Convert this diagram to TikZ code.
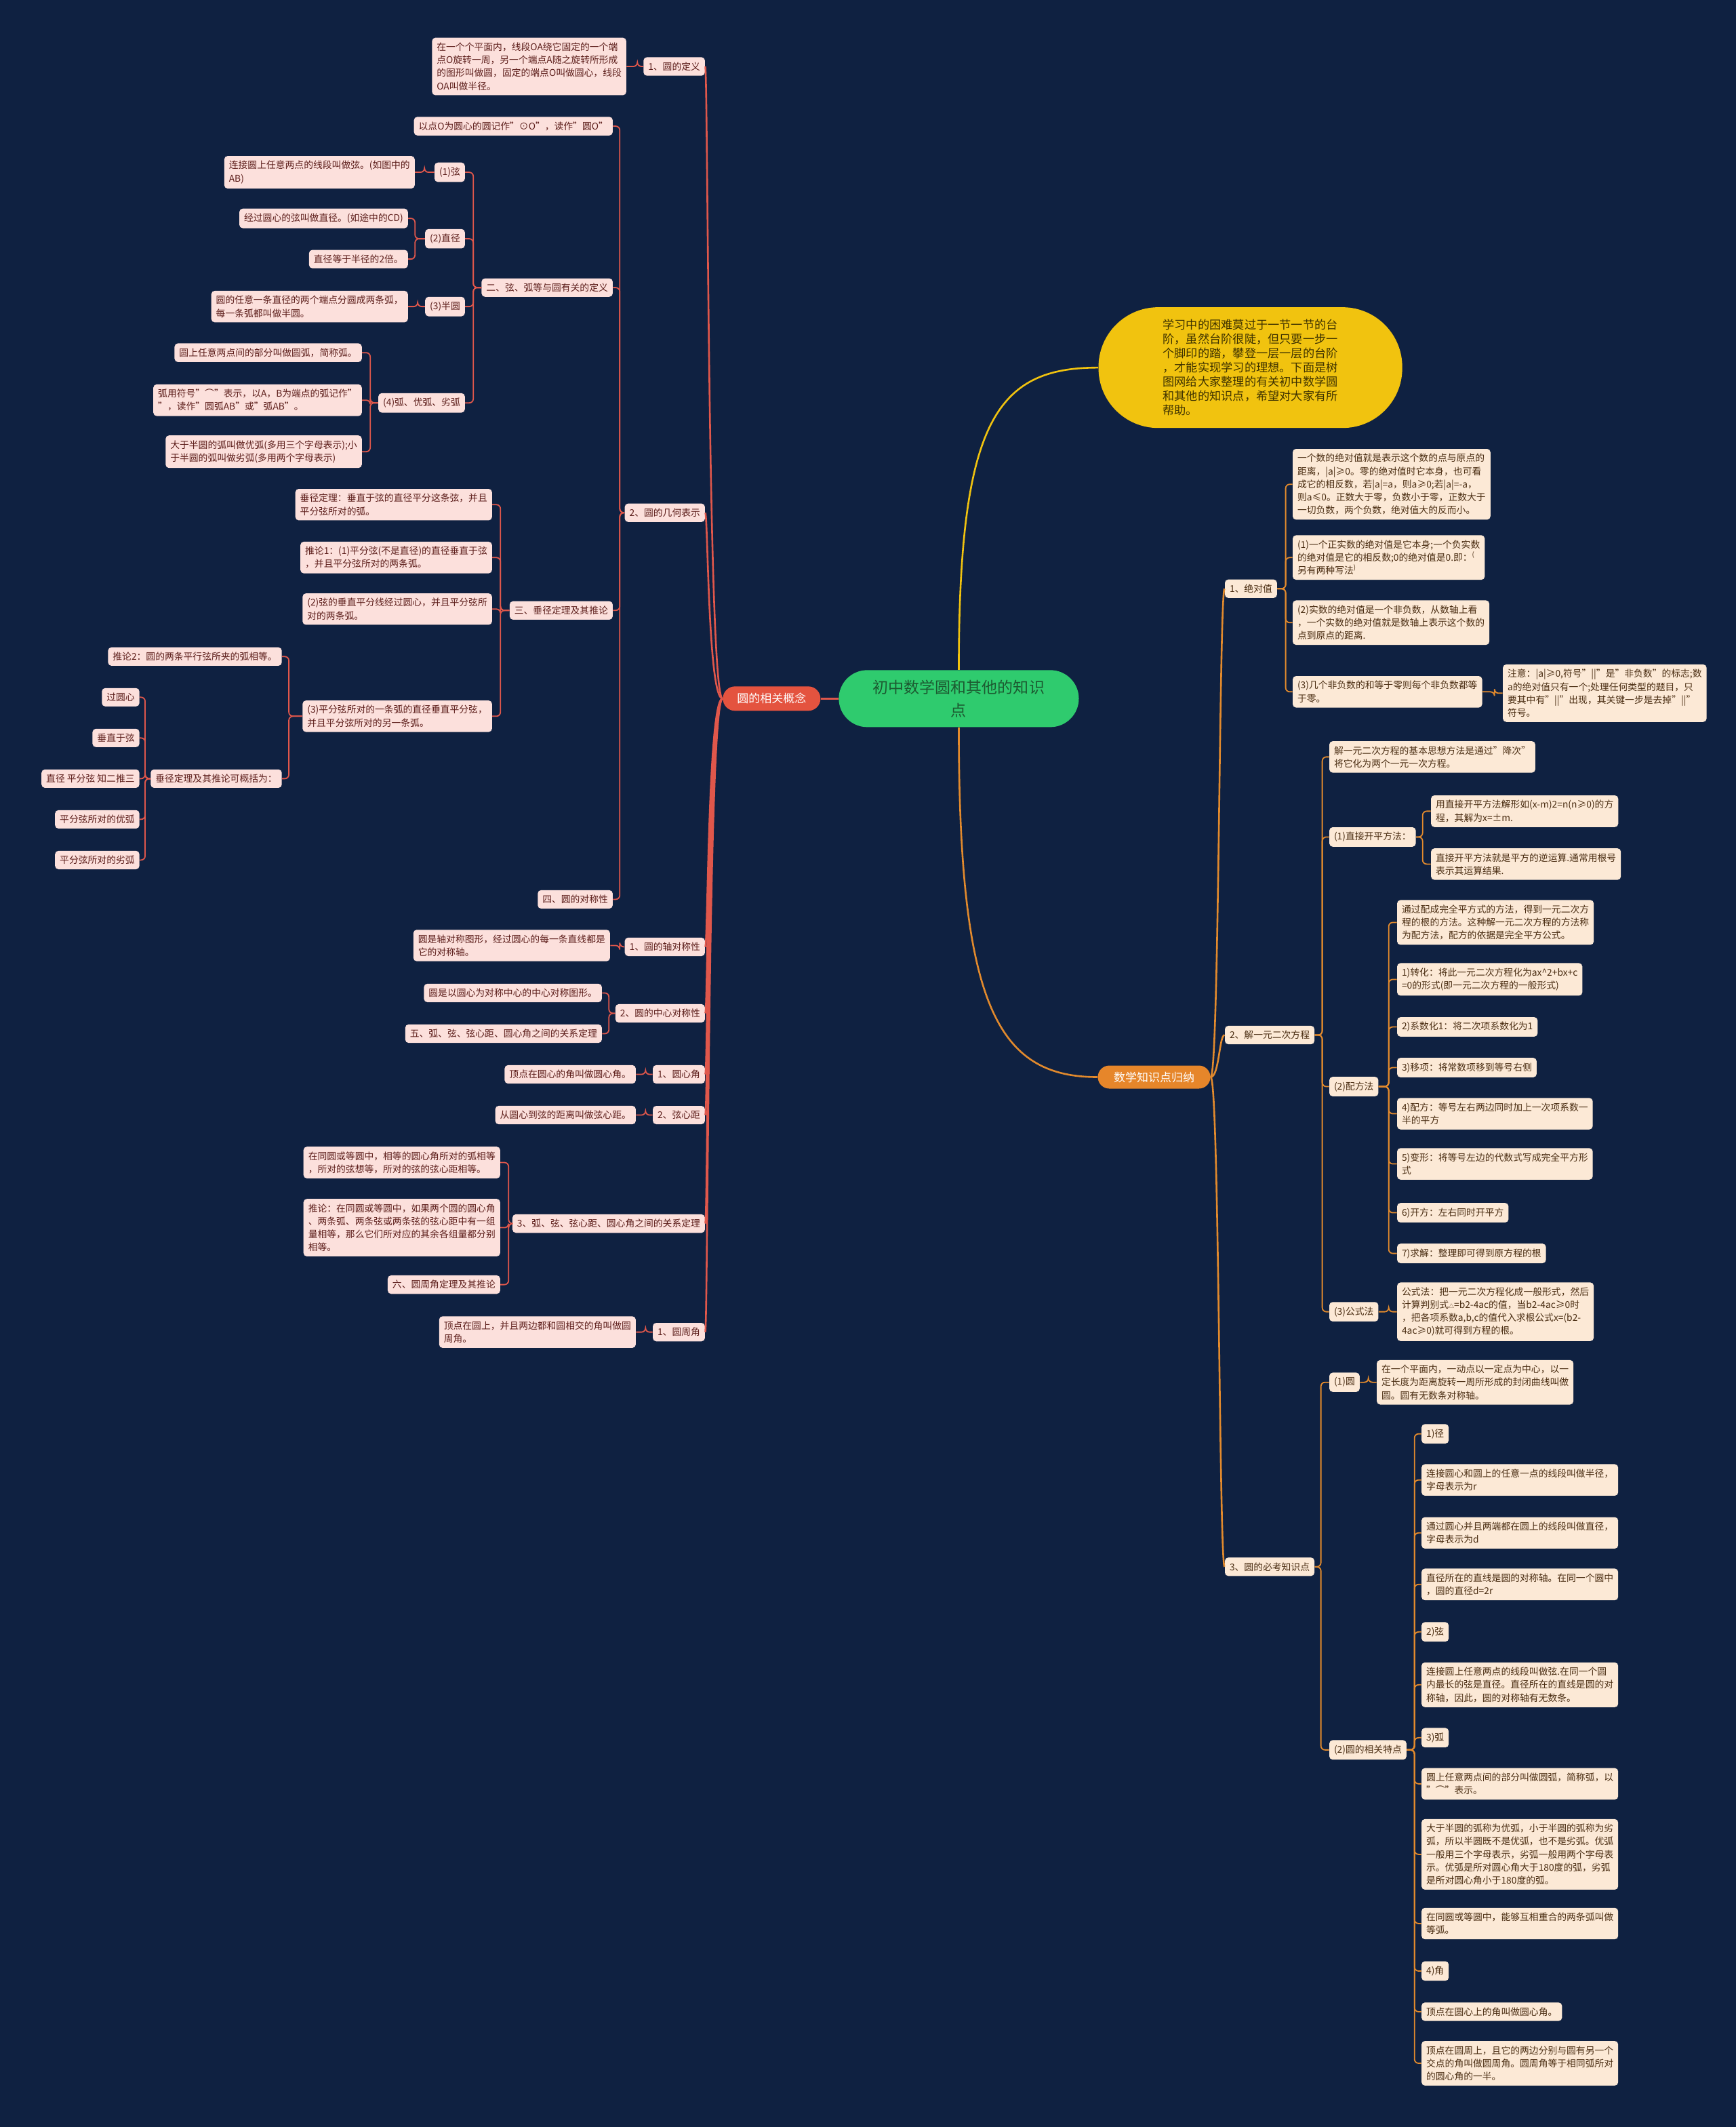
\documentclass[tikz,border=0pt]{standalone}
\usepackage{fontspec}
\setmainfont{Noto Sans CJK SC}
\definecolor{bg}{HTML}{0F2141}
\definecolor{lfill}{HTML}{FCE0DC}
\definecolor{ltext}{HTML}{5C1D1A}
\definecolor{lcol}{HTML}{E0574B}
\definecolor{rfill}{HTML}{FCE9D6}
\definecolor{rtext}{HTML}{4A2D12}
\definecolor{rcol}{HTML}{E28A2D}
\definecolor{rootg}{HTML}{2FCB6E}
\definecolor{roott}{HTML}{1C5A31}
\definecolor{redn}{HTML}{E4533F}
\definecolor{orgn}{HTML}{E6862A}
\definecolor{yel}{HTML}{F1C30F}
\definecolor{yelt}{HTML}{3E3200}
\tikzset{
 base/.style={rounded corners=2.5pt, inner xsep=3.5pt, inner ysep=3.6pt, align=left, font=\fontsize{6.9}{9.6}\selectfont},
 lb/.style={base, fill=lfill, text=ltext, anchor=east},
 rb/.style={base, fill=rfill, text=rtext, anchor=west},
 ll/.style={draw=lcol, line width=0.9pt, rounded corners=3pt},
 rl/.style={draw=rcol, line width=0.9pt, rounded corners=3pt},
}
\newcommand\Lc[3]{\path[ll] (#1.west) -- (#1.west -| #3,0) |- (#2.east);}
\newcommand\Rc[3]{\path[rl] (#1.east) -- (#1.east -| #3,0) |- (#2.west);}
\newcommand\Lm[1]{\draw[draw=lcol, line width=1.3pt] (red.west) .. controls (red.west -| 522,0) and (#1.east -| 522,0) .. (#1.east);}
\newcommand\Rm[1]{\draw[draw=rcol, line width=1.3pt] (org.east) .. controls (org.east -| 899,0) and (#1.west -| 899,0) .. (#1.west);}
\begin{document}
\begin{tikzpicture}[x=1pt,y=-1pt]
\useasboundingbox (0,0) rectangle (1280,1568);
\fill[bg] (0,0) rectangle (1280,1568);

% root and main nodes
\node[fill=rootg, text=roott, rounded corners=21pt, minimum width=177pt, minimum height=42pt, align=center, font=\fontsize{11.5}{17}\selectfont, inner sep=2pt] (root) at (707,515) {初中数学圆和其他的知识\\点};
\node[fill=redn, text=white, rounded corners=9pt, minimum width=72pt, minimum height=18pt, inner sep=2pt, font=\fontsize{8.5}{10}\selectfont] (red) at (569,515) {圆的相关概念};
\node[fill=orgn, text=white, rounded corners=8.5pt, minimum width=83pt, minimum height=17pt, inner sep=2pt, font=\fontsize{8.5}{10}\selectfont] (org) at (851,794) {数学知识点归纳};
\node[fill=yel, text=yelt, rounded corners=44pt, minimum width=224pt, minimum height=89pt, align=left, inner sep=2pt, font=\fontsize{8.6}{10.5}\selectfont] (yb) at (922,271) {学习中的困难莫过于一节一节的台\\阶，虽然台阶很陡，但只要一步一\\个脚印的踏，攀登一层一层的台阶\\，才能实现学习的理想。下面是树\\图网给大家整理的有关初中数学圆\\和其他的知识点，希望对大家有所\\帮助。};

\draw[draw=lcol, line width=1.3pt] (root.west) -- (red.east);
\draw[draw=yel, line width=1.3pt] (root.north) .. controls (707,310) and (735,271) .. (yb.west);
\draw[draw=rcol, line width=1.3pt] (root.south) .. controls (707,740) and (735,794) .. (org.west);

% ===== left side =====
\node[lb] (a1) at (520,49) {1、圆的定义};
\node[lb] (a1t) at (462,49) {在一个个平面内，线段OA绕它固定的一个端\\点O旋转一周，另一个端点A随之旋转所形成\\的图形叫做圆，固定的端点O叫做圆心，线段\\OA叫做半径。};
\Lc{a1}{a1t}{470}

\node[lb] (a2) at (520,378) {2、圆的几何表示};
\node[lb] (b1) at (452,93) {以点O为圆心的圆记作"⊙O"，读作"圆O"};
\node[lb] (b2) at (452,212) {二、弦、弧等与圆有关的定义};
\node[lb] (b3) at (452,450) {三、垂径定理及其推论};
\node[lb] (b4) at (452,663) {四、圆的对称性};
\Lc{a2}{b1}{457}\Lc{a2}{b2}{457}\Lc{a2}{b3}{457}\Lc{a2}{b4}{457}

\node[lb] (c1) at (343,127) {(1)弦};
\node[lb] (c1t) at (306,127) {连接圆上任意两点的线段叫做弦。(如图中的\\AB)};
\node[lb] (c2) at (343,176) {(2)直径};
\node[lb] (c2a) at (301,161) {经过圆心的弦叫做直径。(如途中的CD)};
\node[lb] (c2b) at (301,191) {直径等于半径的2倍。};
\node[lb] (c3) at (343,226) {(3)半圆};
\node[lb] (c3t) at (301,226) {圆的任意一条直径的两个端点分圆成两条弧，\\每一条弧都叫做半圆。};
\node[lb] (c4) at (343,297) {(4)弧、优弧、劣弧};
\node[lb] (c4a) at (267,260) {圆上任意两点间的部分叫做圆弧，简称弧。};
\node[lb] (c4b) at (267,295) {弧用符号"⌒"表示，以A，B为端点的弧记作"\\"，读作"圆弧AB"或"弧AB"。};
\node[lb] (c4c) at (267,333) {大于半圆的弧叫做优弧(多用三个字母表示);小\\于半圆的弧叫做劣弧(多用两个字母表示)};
\Lc{b2}{c1}{349}\Lc{b2}{c2}{349}\Lc{b2}{c3}{349}\Lc{b2}{c4}{349}
\Lc{c1}{c1t}{313}
\Lc{c2}{c2a}{306}\Lc{c2}{c2b}{306}
\Lc{c3}{c3t}{308}
\Lc{c4}{c4a}{273}\Lc{c4}{c4b}{273}\Lc{c4}{c4c}{273}

\node[lb] (d1) at (363,372) {垂径定理：垂直于弦的直径平分这条弦，并且\\平分弦所对的弧。};
\node[lb] (d2) at (363,411) {推论1：(1)平分弦(不是直径)的直径垂直于弦\\，并且平分弦所对的两条弧。};
\node[lb] (d3) at (363,449) {(2)弦的垂直平分线经过圆心，并且平分弦所\\对的两条弧。};
\node[lb] (d4) at (363,528) {(3)平分弦所对的一条弧的直径垂直平分弦，\\并且平分弦所对的另一条弧。};
\Lc{b3}{d1}{369}\Lc{b3}{d2}{369}\Lc{b3}{d3}{369}\Lc{b3}{d4}{369}

\node[lb] (e1) at (208,484) {推论2：圆的两条平行弦所夹的弧相等。};
\node[lb] (e2) at (208,574) {垂径定理及其推论可概括为：};
\Lc{d4}{e1}{213}\Lc{d4}{e2}{213}

\node[lb] (f1) at (103,514) {过圆心};
\node[lb] (f2) at (103,544) {垂直于弦};
\node[lb] (f3) at (103,574) {直径 平分弦 知二推三};
\node[lb] (f4) at (103,604) {平分弦所对的优弧};
\node[lb] (f5) at (103,634) {平分弦所对的劣弧};
\Lc{e2}{f1}{107}\Lc{e2}{f2}{107}\Lc{e2}{f3}{107}\Lc{e2}{f4}{107}\Lc{e2}{f5}{107}

\node[lb] (a3) at (520,698) {1、圆的轴对称性};
\node[lb] (a3t) at (450,697) {圆是轴对称图形，经过圆心的每一条直线都是\\它的对称轴。};
\Lc{a3}{a3t}{457}

\node[lb] (a4) at (520,747) {2、圆的中心对称性};
\node[lb] (g1) at (444,732) {圆是以圆心为对称中心的中心对称图形。};
\node[lb] (g2) at (444,762) {五、弧、弦、弦心距、圆心角之间的关系定理};
\Lc{a4}{g1}{449}\Lc{a4}{g2}{449}

\node[lb] (a5) at (520,792) {1、圆心角};
\node[lb] (a5t) at (469,792) {顶点在圆心的角叫做圆心角。};
\Lc{a5}{a5t}{476}

\node[lb] (a6) at (520,822) {2、弦心距};
\node[lb] (a6t) at (469,822) {从圆心到弦的距离叫做弦心距。};
\Lc{a6}{a6t}{476}

\node[lb] (a7) at (520,902) {3、弧、弦、弦心距、圆心角之间的关系定理};
\node[lb] (h1) at (369,857) {在同圆或等圆中，相等的圆心角所对的弧相等\\，所对的弦想等，所对的弦的弦心距相等。};
\node[lb] (h2) at (369,905) {推论：在同圆或等圆中，如果两个圆的圆心角\\、两条弧、两条弦或两条弦的弦心距中有一组\\量相等，那么它们所对应的其余各组量都分别\\相等。};
\node[lb] (h3) at (369,947) {六、圆周角定理及其推论};
\Lc{a7}{h1}{375}\Lc{a7}{h2}{375}\Lc{a7}{h3}{375}

\node[lb] (a8) at (520,982) {1、圆周角};
\node[lb] (a8t) at (469,982) {顶点在圆上，并且两边都和圆相交的角叫做圆\\周角。};
\Lc{a8}{a8t}{476}

\Lm{a1}\Lm{a2}\Lm{a3}\Lm{a4}\Lm{a5}\Lm{a6}\Lm{a7}\Lm{a8}

% ===== right side =====
\node[rb] (o1) at (903,434) {1、绝对值};
\node[rb] (p1) at (953,357) {一个数的绝对值就是表示这个数的点与原点的\\距离，|a|≥0。零的绝对值时它本身，也可看\\成它的相反数，若|a|=a，则a≥0;若|a|=-a，\\则a≤0。正数大于零，负数小于零，正数大于\\一切负数，两个负数，绝对值大的反而小。};
\node[rb] (p2) at (953,411) {(1)一个正实数的绝对值是它本身;一个负实数\\的绝对值是它的相反数;0的绝对值是0.即：\textsuperscript{(}\\另有两种写法\textsuperscript{)}};
\node[rb] (p3) at (953,459) {(2)实数的绝对值是一个非负数，从数轴上看\\，一个实数的绝对值就是数轴上表示这个数的\\点到原点的距离.};
\node[rb] (p4) at (953,510) {(3)几个非负数的和等于零则每个非负数都等\\于零。};
\node[rb] (p4t) at (1108,511) {注意：|a|≥0,符号"||"是"非负数"的标志;数\\a的绝对值只有一个;处理任何类型的题目，只\\要其中有"||"出现，其关键一步是去掉"||"\\符号。};
\Rc{o1}{p1}{948}\Rc{o1}{p2}{948}\Rc{o1}{p3}{948}\Rc{o1}{p4}{948}
\Rc{p4}{p4t}{1102}

\node[rb] (o2) at (903,763) {2、解一元二次方程};
\node[rb] (q1) at (980,558) {解一元二次方程的基本思想方法是通过"降次"\\将它化为两个一元一次方程。};
\node[rb] (q2) at (980,617) {(1)直接开平方法：};
\node[rb] (q2a) at (1055,598) {用直接开平方法解形如(x-m)2=n(n≥0)的方\\程，其解为x=±m.};
\node[rb] (q2b) at (1055,637) {直接开平方法就是平方的逆运算.通常用根号\\表示其运算结果.};
\node[rb] (q3) at (980,801) {(2)配方法};
\node[rb] (r1) at (1030,680) {通过配成完全平方式的方法，得到一元二次方\\程的根的方法。这种解一元二次方程的方法称\\为配方法，配方的依据是完全平方公式。};
\node[rb] (r2) at (1030,722) {1)转化：将此一元二次方程化为ax\textasciicircum{}2+bx+c\\=0的形式(即一元二次方程的一般形式)};
\node[rb] (r3) at (1030,757) {2)系数化1：将二次项系数化为1};
\node[rb] (r4) at (1030,787) {3)移项：将常数项移到等号右侧};
\node[rb] (r5) at (1030,821) {4)配方：等号左右两边同时加上一次项系数一\\半的平方};
\node[rb] (r6) at (1030,858) {5)变形：将等号左边的代数式写成完全平方形\\式};
\node[rb] (r7) at (1030,894) {6)开方：左右同时开平方};
\node[rb] (r8) at (1030,924) {7)求解：整理即可得到原方程的根};
\node[rb] (q4) at (980,967) {(3)公式法};
\node[rb] (q4t) at (1030,967) {公式法：把一元二次方程化成一般形式，然后\\计算判别式{\fontsize{4}{4}\selectfont △}=b2-4ac的值，当b2-4ac≥0时\\，把各项系数a,b,c的值代入求根公式x=(b2-\\4ac≥0)就可得到方程的根。};
\Rc{o2}{q1}{975}\Rc{o2}{q2}{975}\Rc{o2}{q3}{975}\Rc{o2}{q4}{975}
\Rc{q2}{q2a}{1049}\Rc{q2}{q2b}{1049}
\Rc{q3}{r1}{1024}\Rc{q3}{r2}{1024}\Rc{q3}{r3}{1024}\Rc{q3}{r4}{1024}
\Rc{q3}{r5}{1024}\Rc{q3}{r6}{1024}\Rc{q3}{r7}{1024}\Rc{q3}{r8}{1024}
\Rc{q4}{q4t}{1024}

\node[rb] (o3) at (903,1155) {3、圆的必考知识点};
\node[rb] (s1) at (980,1019) {(1)圆};
\node[rb] (s1t) at (1015,1019) {在一个平面内，一动点以一定点为中心，以一\\定长度为距离旋转一周所形成的封闭曲线叫做\\圆。圆有无数条对称轴。};
\node[rb] (s2) at (980,1290) {(2)圆的相关特点};
\Rc{o3}{s1}{974}\Rc{o3}{s2}{974}
\Rc{s1}{s1t}{1009}

\node[rb] (t1) at (1048,1057) {1)径};
\node[rb] (t2) at (1048,1091) {连接圆心和圆上的任意一点的线段叫做半径，\\字母表示为r};
\node[rb] (t3) at (1048,1130) {通过圆心并且两端都在圆上的线段叫做直径，\\字母表示为d};
\node[rb] (t4) at (1048,1168) {直径所在的直线是圆的对称轴。在同一个圆中\\，圆的直径d=2r};
\node[rb] (t5) at (1048,1203) {2)弦};
\node[rb] (t6) at (1048,1242) {连接圆上任意两点的线段叫做弦.在同一个圆\\内最长的弦是直径。直径所在的直线是圆的对\\称轴，因此，圆的对称轴有无数条。};
\node[rb] (t7) at (1048,1281) {3)弧};
\node[rb] (t8) at (1048,1315) {圆上任意两点间的部分叫做圆弧，简称弧，以\\"⌒"表示。};
\node[rb] (t9) at (1048,1367) {大于半圆的弧称为优弧，小于半圆的弧称为劣\\弧，所以半圆既不是优弧，也不是劣弧。优弧\\一般用三个字母表示，劣弧一般用两个字母表\\示。优弧是所对圆心角大于180度的弧，劣弧\\是所对圆心角小于180度的弧。};
\node[rb] (t10) at (1048,1418) {在同圆或等圆中，能够互相重合的两条弧叫做\\等弧。};
\node[rb] (t11) at (1048,1453) {4)角};
\node[rb] (t12) at (1048,1483) {顶点在圆心上的角叫做圆心角。};
\node[rb] (t13) at (1048,1521) {顶点在圆周上，且它的两边分别与圆有另一个\\交点的角叫做圆周角。圆周角等于相同弧所对\\的圆心角的一半。};
\foreach \t in {t1,t2,t3,t4,t5,t6,t7,t8,t9,t10,t11,t12,t13} {\Rc{s2}{\t}{1043}}

\Rm{o1}\Rm{o2}\Rm{o3}
\end{tikzpicture}
\end{document}
